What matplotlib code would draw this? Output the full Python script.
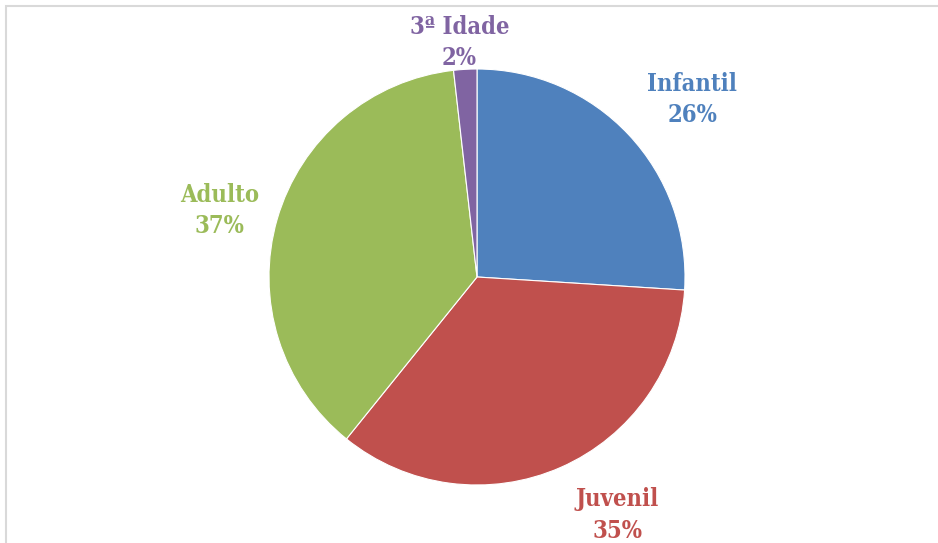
import numpy as np
import matplotlib
matplotlib.use("Agg")
import matplotlib.pyplot as plt
from matplotlib.patches import Rectangle

categories = ["Infantil", "Juvenil", "Adulto", "3ª Idade"]
values = [26.0, 34.8, 37.4, 1.8]
colors = ["#4F81BD", "#C0504D", "#9BBB59", "#8064A2"]
label_dist = [1.35, 1.25, 1.29, 1.13]

W, H = 938, 543
fig = plt.figure(figsize=(W / 100, H / 100), dpi=100)
fig.patch.set_facecolor("white")

# outer frame (top/left visible)
fig.patches.append(Rectangle((6 / W, -0.1), 1.2, (H - 6) / H + 0.1,
                             transform=fig.transFigure, fill=False,
                             edgecolor="#D9D9D9", linewidth=1.5))

cx, cy, r = 477, H - 277, 208
ax = fig.add_axes([(cx - r) / W, (cy - r) / H, 2 * r / W, 2 * r / H])
wedges, _ = ax.pie(values, colors=colors, startangle=90, counterclock=False,
                   radius=1, wedgeprops=dict(edgecolor="white", linewidth=0.8))
ax.set_xlim(-1, 1)
ax.set_ylim(-1, 1)
ax.axis("off")

offsets = [(0.05, -0.07), (0.17, 0.0), (0.0, -0.04), (-0.02, 0.0)]
for w, name, v, col, d, off in zip(wedges, categories, values, colors, label_dist, offsets):
    ang = np.deg2rad((w.theta1 + w.theta2) / 2)
    x = d * np.cos(ang) + off[0]
    y = d * np.sin(ang) + off[1]
    ax.text(x, y, f"{name}\n{v:.0f}%", ha="center", va="center", color=col,
            fontsize=17, fontweight="bold", family="DejaVu Serif",
            fontstretch="condensed", linespacing=1.4, clip_on=False)

fig.savefig("out.png", dpi=100)
